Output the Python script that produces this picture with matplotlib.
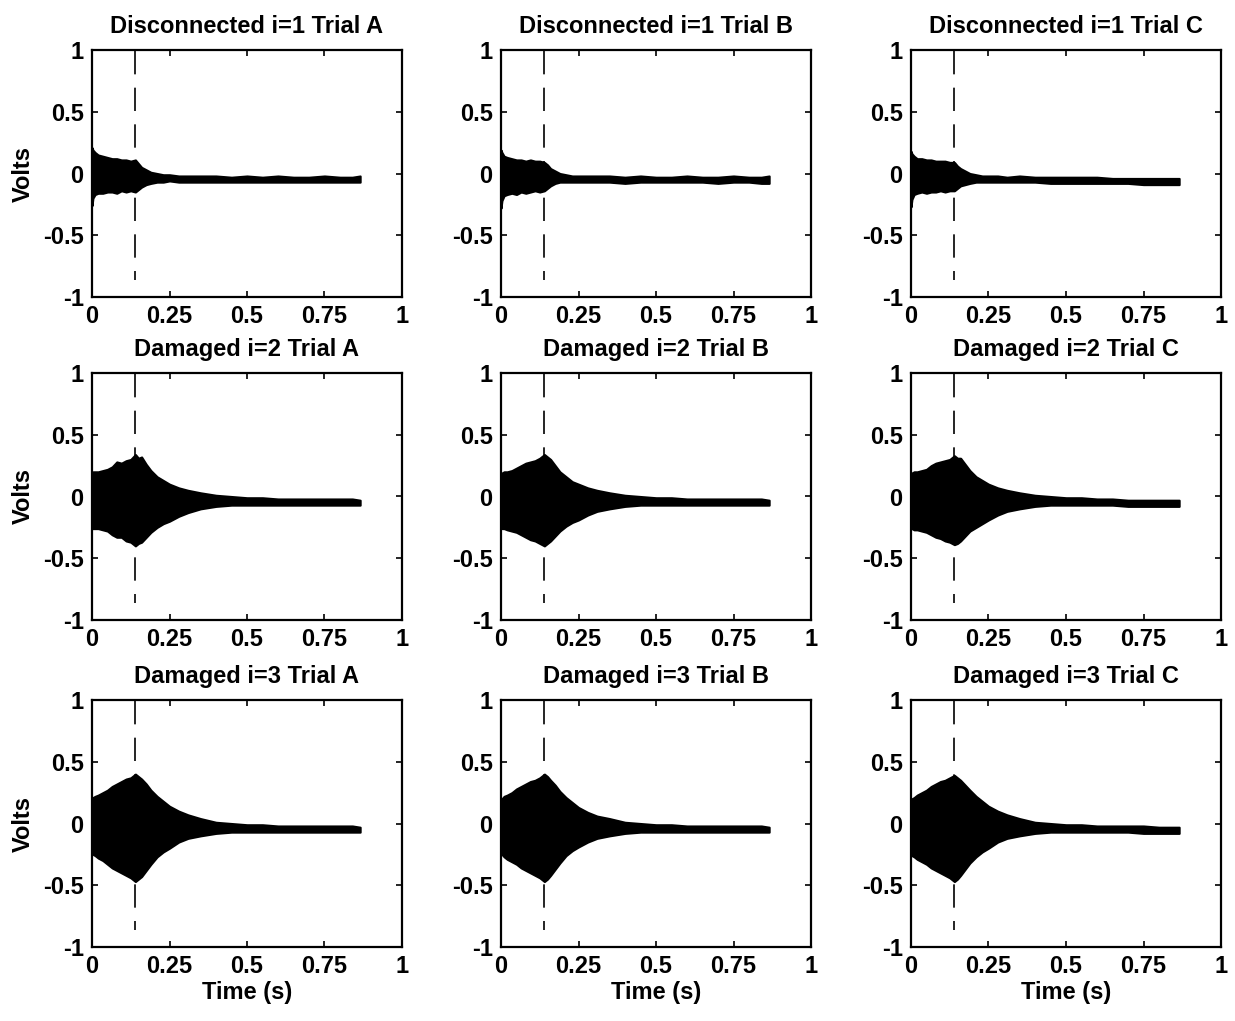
import numpy as np
import matplotlib.pyplot as plt
import matplotlib

matplotlib.rcParams["font.family"] = ["Liberation Sans", "DejaVu Sans"]
matplotlib.rcParams["font.weight"] = "bold"

# common time grid for the envelope samples (s)
t = [0.0, 0.003, 0.01, 0.02, 0.035, 0.05, 0.065, 0.08, 0.095, 0.11, 0.125,
     0.14, 0.15, 0.16, 0.175, 0.19, 0.21, 0.23, 0.25, 0.28, 0.31, 0.35,
     0.40, 0.45, 0.50, 0.55, 0.60, 0.65, 0.70, 0.75, 0.80, 0.84, 0.865]

# upper / lower signal envelopes (volts), one pair per trial
d1a_hi = [0.21, 0.19, 0.17, 0.15, 0.14, 0.13, 0.12, 0.12, 0.11, 0.11, 0.10, 0.11, 0.08, 0.05, 0.03, 0.01, 0.0,
          -0.01, -0.01, -0.02, -0.02, -0.02, -0.02, -0.03, -0.02, -0.03, -0.02, -0.03, -0.03, -0.02, -0.03, -0.03, -0.02]
d1a_lo = [-0.26, -0.2, -0.17, -0.16, -0.16, -0.15, -0.15, -0.16, -0.14, -0.15, -0.14, -0.15, -0.13, -0.11, -0.09,
          -0.08, -0.07, -0.07, -0.06, -0.07, -0.07, -0.07, -0.07, -0.07, -0.07, -0.07, -0.07, -0.07, -0.07, -0.07,
          -0.07, -0.07, -0.07]
d1b_hi = [0.19, 0.17, 0.14, 0.13, 0.12, 0.11, 0.11, 0.10, 0.11, 0.10, 0.10, 0.09, 0.07, 0.04, 0.02, 0.0, -0.01,
          -0.02, -0.02, -0.02, -0.02, -0.02, -0.03, -0.02, -0.03, -0.03, -0.02, -0.03, -0.03, -0.02, -0.03, -0.03, -0.02]
d1b_lo = [-0.28, -0.22, -0.18, -0.17, -0.16, -0.17, -0.15, -0.16, -0.15, -0.14, -0.15, -0.14, -0.12, -0.1, -0.08,
          -0.07, -0.07, -0.07, -0.07, -0.07, -0.07, -0.07, -0.08, -0.07, -0.07, -0.07, -0.07, -0.07, -0.08, -0.07,
          -0.07, -0.08, -0.08]
d1c_hi = [0.18, 0.16, 0.14, 0.12, 0.12, 0.11, 0.11, 0.10, 0.10, 0.10, 0.09, 0.09, 0.06, 0.04, 0.02, 0.0, -0.01,
          -0.02, -0.02, -0.02, -0.03, -0.02, -0.03, -0.03, -0.03, -0.03, -0.03, -0.04, -0.04, -0.04, -0.04, -0.04, -0.04]
d1c_lo = [-0.27, -0.21, -0.17, -0.16, -0.15, -0.16, -0.15, -0.15, -0.14, -0.15, -0.14, -0.14, -0.12, -0.1, -0.09,
          -0.08, -0.07, -0.07, -0.07, -0.07, -0.07, -0.07, -0.07, -0.08, -0.08, -0.08, -0.08, -0.08, -0.08, -0.09,
          -0.09, -0.09, -0.09]

d2a_hi = [0.19, 0.2, 0.2, 0.2, 0.21, 0.22, 0.24, 0.28, 0.27, 0.29, 0.3, 0.34, 0.31, 0.32, 0.26, 0.21, 0.16,
          0.13, 0.1, 0.07, 0.05, 0.03, 0.01, 0.0, -0.01, -0.01, -0.02, -0.02, -0.02, -0.02, -0.02, -0.02, -0.03]
d2a_lo = [-0.26, -0.26, -0.26, -0.26, -0.27, -0.28, -0.31, -0.33, -0.33, -0.36, -0.37, -0.4, -0.38, -0.37, -0.33,
          -0.29, -0.25, -0.22, -0.2, -0.16, -0.13, -0.1, -0.08, -0.07, -0.07, -0.07, -0.07, -0.07, -0.07, -0.07,
          -0.07, -0.07, -0.07]
d2b_hi = [0.18, 0.19, 0.2, 0.2, 0.21, 0.23, 0.25, 0.27, 0.28, 0.29, 0.31, 0.34, 0.32, 0.3, 0.25, 0.2, 0.16,
          0.12, 0.1, 0.07, 0.05, 0.03, 0.01, 0.0, -0.01, -0.01, -0.02, -0.02, -0.02, -0.02, -0.02, -0.02, -0.03]
d2b_lo = [-0.25, -0.26, -0.26, -0.27, -0.28, -0.29, -0.31, -0.33, -0.35, -0.36, -0.38, -0.4, -0.38, -0.36, -0.32,
          -0.28, -0.24, -0.21, -0.19, -0.15, -0.12, -0.1, -0.08, -0.07, -0.07, -0.07, -0.07, -0.07, -0.07, -0.07,
          -0.07, -0.07, -0.07]
d2c_hi = [0.19, 0.19, 0.2, 0.2, 0.21, 0.22, 0.25, 0.27, 0.28, 0.29, 0.3, 0.33, 0.31, 0.31, 0.26, 0.21, 0.16,
          0.13, 0.1, 0.07, 0.05, 0.03, 0.01, 0.0, -0.01, -0.01, -0.02, -0.02, -0.03, -0.03, -0.03, -0.03, -0.03]
d2c_lo = [-0.26, -0.26, -0.27, -0.27, -0.28, -0.29, -0.31, -0.33, -0.34, -0.36, -0.37, -0.39, -0.38, -0.36, -0.32,
          -0.28, -0.25, -0.22, -0.19, -0.15, -0.12, -0.1, -0.08, -0.07, -0.07, -0.07, -0.07, -0.07, -0.08, -0.08,
          -0.08, -0.08, -0.08]

d3a_hi = [0.2, 0.21, 0.22, 0.23, 0.25, 0.27, 0.3, 0.32, 0.34, 0.36, 0.37, 0.4, 0.38, 0.36, 0.32, 0.27, 0.22,
          0.18, 0.14, 0.1, 0.07, 0.04, 0.01, 0.0, -0.01, -0.01, -0.02, -0.02, -0.02, -0.02, -0.02, -0.02, -0.03]
d3a_lo = [-0.24, -0.25, -0.26, -0.28, -0.3, -0.33, -0.36, -0.38, -0.4, -0.42, -0.44, -0.47, -0.45, -0.43, -0.38,
          -0.33, -0.27, -0.23, -0.2, -0.15, -0.12, -0.1, -0.08, -0.07, -0.07, -0.07, -0.07, -0.07, -0.07, -0.07,
          -0.07, -0.07, -0.07]
d3b_hi = [0.19, 0.2, 0.22, 0.23, 0.25, 0.28, 0.3, 0.32, 0.34, 0.35, 0.37, 0.4, 0.38, 0.35, 0.31, 0.26, 0.21,
          0.17, 0.13, 0.09, 0.06, 0.04, 0.01, 0.0, -0.01, -0.01, -0.02, -0.02, -0.02, -0.02, -0.02, -0.02, -0.03]
d3b_lo = [-0.24, -0.25, -0.27, -0.29, -0.31, -0.33, -0.36, -0.38, -0.4, -0.42, -0.44, -0.47, -0.45, -0.42, -0.37,
          -0.32, -0.26, -0.22, -0.19, -0.15, -0.12, -0.1, -0.08, -0.07, -0.07, -0.07, -0.07, -0.07, -0.07, -0.07,
          -0.07, -0.07, -0.07]
d3c_hi = [0.2, 0.2, 0.21, 0.23, 0.25, 0.27, 0.3, 0.32, 0.34, 0.35, 0.37, 0.39, 0.37, 0.35, 0.31, 0.27, 0.22,
          0.18, 0.14, 0.1, 0.07, 0.04, 0.01, 0.0, -0.01, -0.01, -0.02, -0.02, -0.02, -0.02, -0.03, -0.03, -0.03]
d3c_lo = [-0.25, -0.26, -0.27, -0.29, -0.31, -0.33, -0.36, -0.38, -0.4, -0.42, -0.44, -0.47, -0.45, -0.42, -0.37,
          -0.32, -0.27, -0.23, -0.2, -0.15, -0.12, -0.1, -0.08, -0.07, -0.07, -0.07, -0.07, -0.07, -0.07, -0.08,
          -0.08, -0.08, -0.08]

titles = [
    ["Disconnected i=1 Trial A", "Disconnected i=1 Trial B", "Disconnected i=1 Trial C"],
    ["Damaged i=2 Trial A", "Damaged i=2 Trial B", "Damaged i=2 Trial C"],
    ["Damaged i=3 Trial A", "Damaged i=3 Trial B", "Damaged i=3 Trial C"],
]
envelopes = [
    [(d1a_hi, d1a_lo), (d1b_hi, d1b_lo), (d1c_hi, d1c_lo)],
    [(d2a_hi, d2a_lo), (d2b_hi, d2b_lo), (d2c_hi, d2c_lo)],
    [(d3a_hi, d3a_lo), (d3b_hi, d3b_lo), (d3c_hi, d3c_lo)],
]
t_mark = 0.14          # time of the dashed marker line
x_ticks = [0, 0.25, 0.5, 0.75, 1]
x_ticklabels = ["0", "0.25", "0.5", "0.75", "1"]
y_ticks = [-1, -0.5, 0, 0.5, 1]
y_ticklabels = ["-1", "-0.5", "0", "0.5", "1"]

W, H = 1235, 1021
fig = plt.figure(figsize=(W / 100, H / 100), dpi=100)

col_left = [92, 501, 911]
col_width = 310
row_top = [50, 373, 700]
row_height = 247

for r in range(3):
    for c in range(3):
        ax = fig.add_axes([col_left[c] / W, 1 - (row_top[r] + row_height) / H,
                           col_width / W, row_height / H])
        hi, lo = envelopes[r][c]
        ax.fill_between(t, lo, hi, color="black", linewidth=1.5, edgecolor="black")
        ax.plot([t_mark, t_mark], [0.995, -0.86], color="black", linewidth=1.2,
                linestyle=(0, (14, 8)))
        ax.set_xlim(0, 1)
        ax.set_ylim(-1, 1)
        ax.set_xticks(x_ticks)
        ax.set_xticklabels(x_ticklabels)
        ax.set_yticks(y_ticks)
        ax.set_yticklabels(y_ticklabels)
        ax.tick_params(direction="in", length=4, width=1.2, top=True, right=True,
                       labelsize=17, pad=6)
        for lab in ax.get_xticklabels() + ax.get_yticklabels():
            lab.set_fontweight("bold")
        for s in ax.spines.values():
            s.set_linewidth(1.6)
        ax.set_title(titles[r][c], fontsize=17, fontweight="bold", pad=12)
        if c == 0:
            ax.set_ylabel("Volts", fontsize=17, fontweight="bold", labelpad=6)
        if r == 2:
            ax.set_xlabel("Time (s)", fontsize=17, fontweight="bold", labelpad=2)

fig.savefig("out.png", dpi=100)
